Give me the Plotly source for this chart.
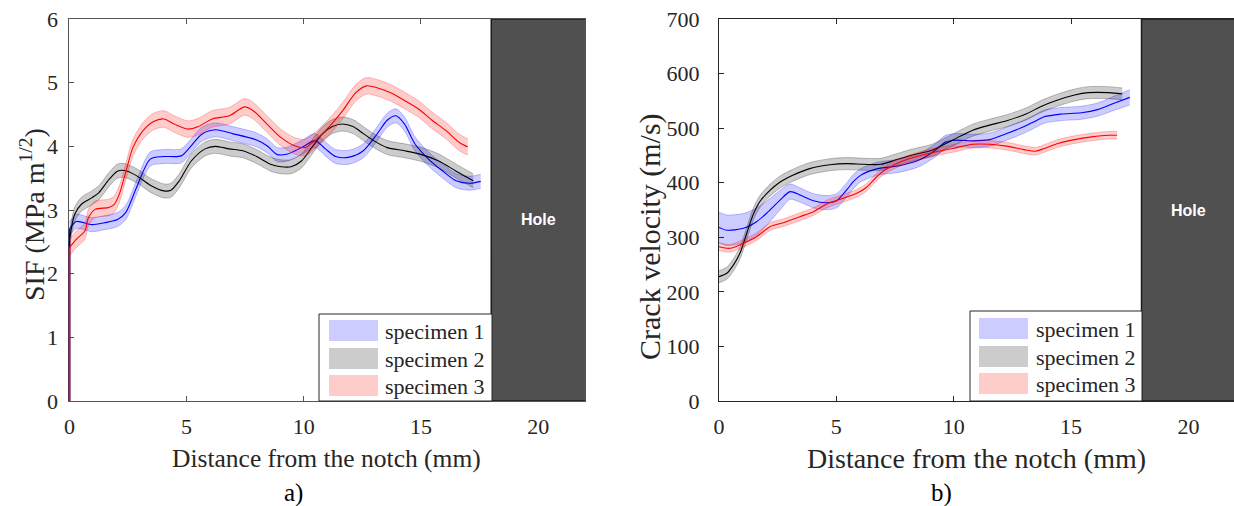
import plotly.graph_objects as go

# ---------------- data: panel a) SIF vs distance ----------------
sif_s1_x = [0, 0.0, 0.3, 0.95, 1.5, 2.05, 2.4, 2.86, 3.45, 4.03, 4.77, 5.13, 5.65, 6.23, 6.96, 7.99, 8.43, 8.87,
            9.31, 9.9, 10.48, 10.92, 11.36, 11.95, 12.54, 13.12, 13.56, 13.93, 14.3, 14.74, 15.32, 15.9, 16.5, 17.08, 17.55]
sif_s1_y = [0, 2.7, 2.82, 2.77, 2.8, 2.85, 2.96, 3.35, 3.8, 3.84, 3.85, 3.98, 4.19, 4.26, 4.2, 4.1, 4.01, 3.87,
            3.88, 3.98, 4.09, 3.96, 3.84, 3.83, 3.93, 4.19, 4.41, 4.48, 4.35, 4.04, 3.8, 3.62, 3.46, 3.42, 3.45]
sif_s2_x = [0, 0.0, 0.22, 0.51, 0.95, 1.25, 1.69, 2.05, 2.35, 2.86, 3.45, 4.03, 4.33, 4.69, 5.2, 5.79, 6.23, 6.82,
            7.4, 7.99, 8.58, 9.02, 9.46, 9.9, 10.34, 10.78, 11.22, 11.66, 12.1, 12.54, 12.98, 13.56, 14.3, 15.03,
            15.76, 16.5, 17.23]
sif_s2_y = [0, 2.51, 2.93, 3.09, 3.19, 3.27, 3.48, 3.61, 3.62, 3.54, 3.39, 3.3, 3.31, 3.46, 3.77, 3.96, 4.0, 3.96,
            3.93, 3.84, 3.72, 3.68, 3.68, 3.77, 3.98, 4.19, 4.31, 4.35, 4.31, 4.2, 4.09, 3.98, 3.93, 3.87,
            3.77, 3.61, 3.46]
sif_s3_x = [0, 0.0, 0.29, 0.66, 0.81, 1.1, 1.69, 1.91, 2.13, 2.42, 2.71, 3.15, 3.59, 4.03, 4.47, 5.06, 5.5, 6.09,
            6.82, 7.48, 7.84, 8.43, 9.02, 9.6, 10.04, 10.48, 11.07, 11.66, 12.24, 12.68, 13.12, 13.71, 14.3, 14.88,
            15.47, 16.06, 16.64, 17.0]
sif_s3_y = [0, 2.41, 2.54, 2.67, 2.88, 3.01, 3.04, 3.09, 3.25, 3.62, 3.98, 4.25, 4.39, 4.43, 4.35, 4.27, 4.31, 4.43,
            4.48, 4.62, 4.56, 4.35, 4.14, 4.01, 3.98, 4.09, 4.3, 4.56, 4.85, 4.95, 4.92, 4.84, 4.72, 4.59,
            4.41, 4.25, 4.06, 3.99]
sif_band = [0.11, 0.11, 0.13]   # half-width of shaded band per specimen

# ---------------- data: panel b) crack velocity vs distance ----------------
vel_s1_x = [0, 0.33, 1.04, 1.6, 2.03, 2.6, 3.03, 3.45, 4.02, 4.59, 5.01, 5.44, 5.72, 6.03, 6.76, 7.63, 8.5, 9.22,
            9.65, 10.09, 10.81, 11.53, 12.26, 12.98, 13.42, 13.85, 14.57, 15.44, 16.16, 16.89, 17.5]
vel_s1_y = [318, 313, 316.5, 328.6, 344, 368, 383.6, 377.5, 367, 363.4, 367, 386.7, 401.9, 413.5, 425.8, 430.7, 441,
            459.5, 474.8, 477.9, 476.7, 479, 490, 502.5, 511.7, 520.9, 525.8, 528.2, 534.4, 546.6, 556.4]
vel_s1_band = [28, 28, 27, 25, 22, 18, 14, 13, 13, 13, 13, 13, 13, 12, 12, 12, 12, 12, 12, 12, 12, 12, 12, 12, 12,
               12, 12, 12, 12, 13, 14]
vel_s2_x = [0, 0.33, 0.61, 0.89, 1.18, 1.46, 1.75, 2.17, 2.56, 3.14, 3.86, 4.73, 5.46, 6.18, 6.9, 7.48, 8.2, 9.07,
            9.94, 10.81, 11.53, 12.26, 13.13, 13.7, 14.43, 15.15, 15.73, 16.6, 17.18]
vel_s2_y = [227.8, 234, 249, 270.6, 307, 342, 366, 386, 400, 413.5, 425.8, 433, 435, 433.7, 433.7, 441, 450.3,
            459.5, 477.9, 496.3, 505.5, 513.5, 527, 539.3, 551.5, 560.7, 565, 565, 562.6]
vel_s2_band = 11
vel_s3_x = [0, 0.47, 1.04, 1.6, 2.17, 2.74, 3.45, 4.02, 4.59, 5.16, 5.87, 6.29, 6.7, 7.05, 7.63, 8.35, 9.22, 9.94,
            10.81, 11.53, 12.26, 12.98, 13.49, 13.85, 14.43, 15.15, 15.88, 16.6, 16.96]
vel_s3_y = [282.8, 279.8, 289, 301, 319.4, 326.8, 337.8, 347, 361, 369.6, 380.6, 391.6, 410, 422.7, 436, 447, 456.4,
            462.6, 470.5, 470.5, 467, 460.7, 457.7, 462.6, 471.8, 479, 484, 487, 487]
vel_s3_band = 7

names = ["specimen 1", "specimen 2", "specimen 3"]
line_colors = ["rgb(0,0,255)", "rgb(0,0,0)", "rgb(255,0,0)"]
band_fill = ["rgba(0,0,255,0.2)", "rgba(0,0,0,0.2)", "rgba(255,0,0,0.2)"]
band_edge = ["rgba(0,0,255,0.3)", "rgba(0,0,0,0.3)", "rgba(255,0,0,0.3)"]
patch_colors = ["#ccccff", "#cccccc", "#ffcccc"]
hole_range = [18, 22]

W, H = 1234, 506
SERIF = "Liberation Serif"


def px(x):
    return x / W


def py(y):
    return 1 - y / H


fig = go.Figure()


def add_series(x, y, hw, i, xa, ya, start_jump):
    if not isinstance(hw, list):
        hw = [hw] * len(x)
    k = 1 if start_jump else 0      # the initial vertical jump from 0 is drawn straight, without band
    bx = x[k:]
    lo = [v - h for v, h in zip(y[k:], hw[k:])]
    up = [v + h for v, h in zip(y[k:], hw[k:])]
    common = dict(xaxis=xa, yaxis=ya, mode="lines", showlegend=False, hoverinfo="skip")
    fig.add_trace(go.Scatter(x=bx, y=lo, line=dict(color=band_edge[i], width=0.8, shape="spline", smoothing=0.8),
                             **common))
    fig.add_trace(go.Scatter(x=bx, y=up, fill="tonexty", fillcolor=band_fill[i],
                             line=dict(color=band_edge[i], width=0.8, shape="spline", smoothing=0.8), **common))
    if start_jump:
        fig.add_trace(go.Scatter(x=x[:2], y=y[:2], line=dict(color=line_colors[i], width=1.6), **common))
    fig.add_trace(go.Scatter(x=bx, y=y[k:], name=names[i],
                             line=dict(color=line_colors[i], width=1.1, shape="spline", smoothing=0.8), **common))


sif_sets = [(sif_s1_x, sif_s1_y), (sif_s2_x, sif_s2_y), (sif_s3_x, sif_s3_y)]
for i, (x, y) in enumerate(sif_sets):
    add_series(x, y, sif_band[i], i, "x", "y", True)

vel_sets = [(vel_s1_x, vel_s1_y, vel_s1_band), (vel_s2_x, vel_s2_y, vel_s2_band), (vel_s3_x, vel_s3_y, vel_s3_band)]
for i, (x, y, b) in enumerate(vel_sets):
    add_series(x, y, b, i, "x2", "y2", False)

tick_font = dict(family=SERIF, size=22, color="#262626")
ydom = [py(401), py(19)]


def ax(dom, rng, tickvals, color, standoff):
    return dict(domain=dom, range=rng, tickvals=tickvals, ticks="inside", ticklen=5, tickcolor=color,
                showline=True, linecolor=color, linewidth=1, mirror="ticks", showgrid=False, zeroline=False,
                tickfont=tick_font, ticklabelstandoff=standoff, fixedrange=True, automargin=False,
                layer="below traces")


fig.update_layout(
    width=W, height=H, margin=dict(l=0, r=0, t=0, b=0, pad=0, autoexpand=False),
    font=dict(family=SERIF, size=22, color="#262626"),
    paper_bgcolor="white", plot_bgcolor="white", showlegend=False,
    xaxis=ax([px(68.5), px(585)], [-0.04, 22], [0, 5, 10, 15, 20], "#555555", 6),
    yaxis=ax(ydom, [0, 6], [0, 1, 2, 3, 4, 5, 6], "#555555", 5),
    xaxis2=ax([px(719), 1.0], [0, 21.94], [0, 5, 10, 15, 20], "#262626", 6),
    yaxis2=ax(ydom, [0, 700], [0, 100, 200, 300, 400, 500, 600, 700], "#262626", 14),
)
fig.layout.xaxis2.anchor = "y2"
fig.layout.yaxis2.anchor = "x2"

shapes = []
annotations = []
# hole rectangles
for xr, yr, ymax, ytext in [("x", "y", 6, 2.85), ("x2", "y2", 700, 350)]:
    shapes.append(dict(type="rect", xref=xr, yref=yr, x0=hole_range[0], x1=hole_range[1] + 0.5, y0=0, y1=ymax,
                       fillcolor="#505050", line=dict(color="#1a1a1a", width=1.5), layer="above"))
    annotations.append(dict(xref=xr, yref=yr, x=sum(hole_range) / 2, y=ytext, text="<b>Hole</b>", showarrow=False,
                            font=dict(family="Liberation Sans", size=16, color="white")))

# manual legends (pixel geometry)
legends = [
    dict(box=(319, 314, 492, 401), patch_x=(329, 378), rows=[(320, 341), (348, 369), (375, 396)], text_x=383),
    dict(box=(970, 311, 1142, 401), patch_x=(979, 1028), rows=[(318, 339), (346, 367), (373, 394)], text_x=1034),
]
for lg in legends:
    x0, y0, x1, y1 = lg["box"]
    shapes.append(dict(type="rect", xref="paper", yref="paper", x0=px(x0), x1=px(x1), y0=py(y1), y1=py(y0),
                       fillcolor="white", line=dict(color="#262626", width=1), layer="above"))
    for i, (ra, rb) in enumerate(lg["rows"]):
        shapes.append(dict(type="rect", xref="paper", yref="paper", x0=px(lg["patch_x"][0]), x1=px(lg["patch_x"][1]),
                           y0=py(rb), y1=py(ra), fillcolor=patch_colors[i], line=dict(width=0), layer="above"))
        annotations.append(dict(xref="paper", yref="paper", x=px(lg["text_x"]), y=py((ra + rb) / 2 + 0.5),
                                xanchor="left", yanchor="middle", text=names[i], showarrow=False,
                                font=dict(family=SERIF, size=22, color="#262626")))

# axis titles and panel labels
annotations += [
    dict(xref="paper", yref="paper", x=px(326.5), y=py(458), text="Distance from the notch (mm)", showarrow=False,
         xanchor="center", yanchor="middle", font=dict(family=SERIF, size=25.5, color="#262626")),
    dict(xref="paper", yref="paper", x=px(976), y=py(458), text="Distance from the notch (mm)", showarrow=False,
         xanchor="center", yanchor="middle", font=dict(family=SERIF, size=28, color="#262626")),
    dict(xref="paper", yref="paper", x=px(32), y=py(215), text="SIF (MPa m<sup>1/2</sup>)", showarrow=False,
         textangle=-90, xanchor="center", yanchor="middle", font=dict(family=SERIF, size=28, color="#262626")),
    dict(xref="paper", yref="paper", x=px(650), y=py(237), text="Crack velocity (m/s)", showarrow=False,
         textangle=-90, xanchor="center", yanchor="middle", font=dict(family=SERIF, size=30, color="#262626")),
    dict(xref="paper", yref="paper", x=px(293), y=py(493), text="a)", showarrow=False,
         xanchor="center", yanchor="middle", font=dict(family=SERIF, size=25, color="black")),
    dict(xref="paper", yref="paper", x=px(941), y=py(493), text="b)", showarrow=False,
         xanchor="center", yanchor="middle", font=dict(family=SERIF, size=25, color="black")),
]
fig.update_layout(shapes=shapes, annotations=annotations)

fig.write_html("out.html", config={"displayModeBar": False},
               post_script="document.body.style.margin='0';document.body.style.overflow='hidden';")
